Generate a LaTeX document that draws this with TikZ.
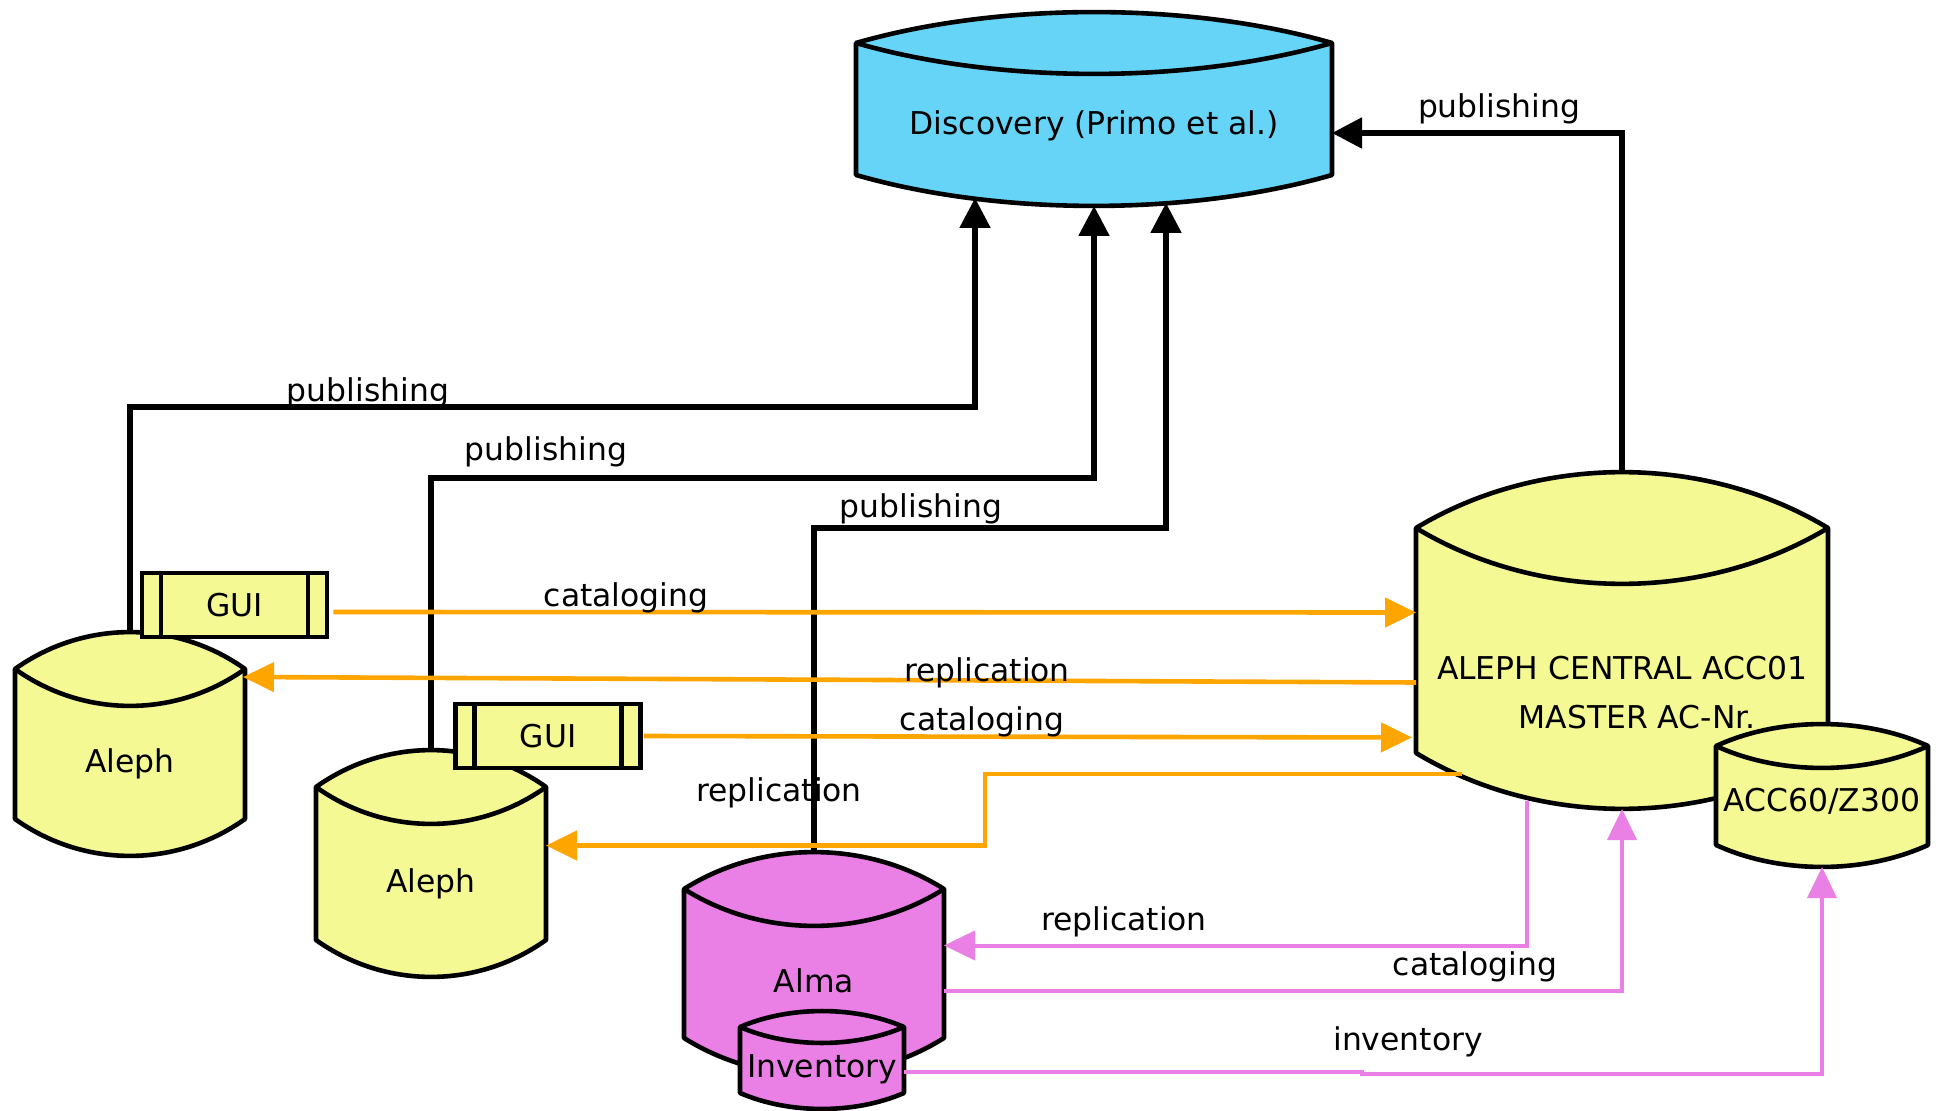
\documentclass[tikz,border=0pt]{standalone}
\usepackage{fontspec}
\setmainfont{DejaVu Sans}
\usepackage{tikz}
\usetikzlibrary{arrows.meta}
\usetikzlibrary{calc}
\usetikzlibrary{positioning}

\definecolor{discblue}{HTML}{66D4F7}
\definecolor{alephyellow}{HTML}{F5F994}
\definecolor{almapink}{HTML}{EA7FE6}
\definecolor{replorange}{HTML}{FFA500}

% drum: name, centre x, top corner y, bottom corner y, half width, bulge, fill, text, text shift
\newcommand{\drum}[9]{%
  \draw[drumline,fill=#7] (#2-#5,#3) .. controls (#2-0.4*#5,#3-1.33*#6) and (#2+0.4*#5,#3-1.33*#6) .. (#2+#5,#3)
    -- (#2+#5,#4) .. controls (#2+0.4*#5,#4+1.33*#6) and (#2-0.4*#5,#4+1.33*#6) .. (#2-#5,#4) -- cycle;
  \draw[drumline] (#2-#5,#3) .. controls (#2-0.4*#5,#3+1.33*#6) and (#2+0.4*#5,#3+1.33*#6) .. (#2+#5,#3);
  \node[drumbox,minimum width=#5*1pt,minimum height={(#4-#3+2*#6)*0.5pt}] (#1) at (#2,{(#3+#4)/2}) {};
  \node (#1text) at (#2,{(#3+#4)/2+#9}) {#8};
}

\begin{document}
\begin{tikzpicture}[
  x=0.5pt,y=-0.5pt,
  font=\fontsize{15.7}{18.8}\selectfont,
  every node/.style={align=center},
  drumline/.style={line width=2.3pt,line join=round},
  drumbox/.style={draw=none,inner sep=0pt,outer sep=0pt},
  gui/.style={draw,line width=2.3pt,fill=alephyellow,minimum width=92.5pt,minimum height=32pt,inner sep=0pt,
    path picture={\draw[line width=2.3pt]
      ([xshift=9.5pt]path picture bounding box.north west) -- ([xshift=9.5pt]path picture bounding box.south west)
      ([xshift=-9.5pt]path picture bounding box.north east) -- ([xshift=-9.5pt]path picture bounding box.south east);}},
  pub/.style={-{Triangle[length=15pt,width=15pt]},line width=2.6pt},
  repl/.style={-{Triangle[length=15.5pt,width=14.5pt]},line width=2.3pt,color=replorange},
  alma/.style={-{Triangle[length=15.5pt,width=14.5pt]},line width=2pt,color=almapink}]

  \useasboundingbox (0,0) rectangle (1936,1111);

  % Position the stores
  \drum{discovery}{1094}{43}{175}{238}{31}{discblue}{Discovery (Primo et al.)}{17}
  \drum{aleph0}{130}{669}{819}{115}{37}{alephyellow}{Aleph}{20}
  \node[gui] (gui0) at (234.5,605) {GUI};
  \drum{aleph1}{431}{787}{940}{115}{37}{alephyellow}{Aleph}{20}
  \node[gui] (gui1) at (548,736) {GUI};
  \drum{alma}{814}{889}{1038}{130}{37}{almapink}{Alma}{17}
  \drum{inventory}{822}{1027}{1093}{82}{16}{almapink}{Inventory}{9}
  \drum{central}{1622}{528}{753}{206}{56}{alephyellow}{ALEPH CENTRAL ACC01\\[5.5pt]\hspace*{15pt}MASTER AC-Nr.}{52}
  \drum{acc60}{1822}{746}{845}{106}{22}{alephyellow}{ACC60/Z300}{6}

  % Draw the arrows between the stores and label them.
  \draw[pub] (aleph0.north) -- ++(0,-225) -| ($(discovery.south)+(-119,-8)$);
  \draw[pub] (aleph1.north) -- ++(0,-272) -| (discovery.south);
  \draw[pub] (alma.north) -- ++(0,-324) -| ($(discovery.south)+(72,-3)$);
  \draw[pub] (central.north) |- ($(discovery.east)+(0,24)$);

  \draw[repl] ($(gui0.east)+(4,7)$) -- ($(central.west)+(0,-28)$);
  \draw[repl] ($(central.west)+(0,42)$) -- ($(aleph0.east)+(-2,-67)$);
  \draw[repl] ($(gui1.east)+(1,0)$) -- ($(central.west)+(-4,97)$);
  \draw[repl] ($(central.south west)+(46,-35)$) -- ++(-477,0) |- ($(aleph1.east)+(0,-18)$);

  \draw[alma] ($(central.south)+(-95,-8)$) |- ($(alma.east)+(0,-18)$);
  \draw[alma] ($(alma.east)+(0,27)$) -| (central.south);
  \draw[alma] ($(inventory.east)+(0,12)$) -- ++(458,0) -- ++(0,2) -| (acc60.south);

  \node (pub0) at (368,393) {publishing};
  \node (pub1) at (546,452) {publishing};
  \node (pub2) at (921,509) {publishing};
  \node (pub3) at (1499,109) {publishing};
  \node (cat0) at (626,598) {cataloging};
  \node (rep0) at (987,673) {replication};
  \node (cat1) at (982,722) {cataloging};
  \node (rep1) at (779,793) {replication};
  \node (rep2) at (1124,922) {replication};
  \node (cat2) at (1475,967) {cataloging};
  \node (inv0) at (1408,1042) {inventory};
\end{tikzpicture}
\end{document}
